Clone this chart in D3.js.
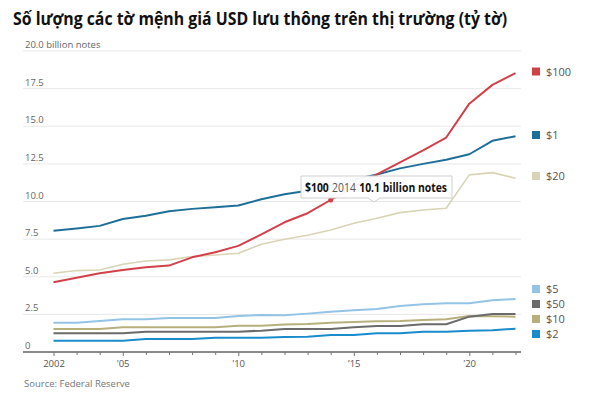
<!DOCTYPE html>
<html><head><meta charset="utf-8">
<script src="https://cdn.jsdelivr.net/npm/d3@7"></script>
<style>body{margin:0;background:#fff}svg{display:block}text{font-family:"Open Sans","Noto Sans",sans-serif}</style>
</head><body><svg id="c" width="600" height="400"></svg>
<script>
const years = d3.range(2002, 2023);
const seriesNames = ["$100", "$1", "$20", "$5", "$50", "$10", "$2"];
const v100 = [4.63,4.94,5.23,5.45,5.63,5.74,6.29,6.63,7.05,7.82,8.62,9.22,10.1,10.95,11.8,12.6,13.4,14.25,16.5,17.75,18.53];
const v1   = [8.05,8.2,8.38,8.84,9.06,9.35,9.51,9.62,9.73,10.15,10.48,10.72,11.1,11.45,11.8,12.2,12.5,12.77,13.14,14.03,14.34];
const v20  = [5.23,5.41,5.45,5.83,6.05,6.12,6.34,6.45,6.56,7.16,7.49,7.76,8.11,8.55,8.89,9.26,9.44,9.55,11.77,11.92,11.55];
const v5   = [1.95,1.95,2.06,2.17,2.17,2.26,2.26,2.26,2.39,2.46,2.44,2.55,2.68,2.77,2.86,3.06,3.17,3.24,3.24,3.44,3.52];
const v50  = [1.24,1.24,1.24,1.24,1.35,1.35,1.35,1.35,1.35,1.42,1.53,1.53,1.53,1.64,1.73,1.73,1.84,1.84,2.35,2.53,2.53];
const v10  = [1.53,1.53,1.53,1.64,1.64,1.64,1.64,1.64,1.75,1.75,1.82,1.86,1.95,1.99,2.04,2.06,2.13,2.17,2.39,2.37,2.35];
const v2   = [0.75,0.75,0.75,0.75,0.86,0.86,0.86,0.95,0.95,0.95,1.0,1.02,1.13,1.13,1.24,1.24,1.35,1.35,1.42,1.45,1.55];
const colors = ["#d2404a","#1e6f98","#d9d4b5","#93c4e6","#6b6b6b","#b8b07c","#1a8ccc"];
const yTicks = [0, 2.5, 5, 7.5, 10, 12.5, 15, 17.5, 20];
const xTickLabels = {2002:"2002",2005:"\u201905",2010:"\u201910",2015:"\u201915",2020:"\u201920"};
const title = "Số lượng các tờ mệnh giá USD lưu thông trên thị trường (tỷ tờ)";
const source = "Source: Federal Reserve";
const legendOrder = [0,1,2,3,4,5,6];
const tip = {series:"$100", year:2014, value:10.1};

const allValues = [v100, v1, v20, v5, v50, v10, v2];
const svg = d3.select("#c");
const x = d3.scaleLinear().domain([2002, 2022]).range([53.5, 515.5]);
const y = d3.scaleLinear().domain([0, 20]).range([352, 51]);
const gL = 23, gR = 521;

// title
const t = svg.append("text").attr("x", 13).attr("y", 25).attr("font-size", 18).attr("font-weight", 700).attr("fill", "#111").text(title);
const tw = t.node().getComputedTextLength();
if (tw > 494) t.attr("textLength", 494).attr("lengthAdjust", "spacingAndGlyphs");

// gridlines
svg.append("g").selectAll("line").data(yTicks.filter(d => d > 0)).join("line")
  .attr("x1", gL).attr("x2", gR).attr("y1", d => y(d)).attr("y2", d => y(d))
  .attr("stroke", "#e8e8e8").attr("stroke-width", 1);
svg.append("g").selectAll("text").data(yTicks).join("text")
  .attr("x", 25).attr("y", d => y(d) - 3).attr("font-size", 9.5).attr("fill", "#666")
  .text(d => d === 20 ? "20.0 billion notes" : (d === 0 ? "0" : d3.format(".1f")(d)));

// x axis
const xa = svg.append("g").attr("transform", "translate(0,352)")
  .call(d3.axisBottom(x).tickValues(years).tickSize(3).tickFormat(d => xTickLabels[d] || ""));
xa.select(".domain").remove();
xa.insert("line", ":first-child").attr("x1", gL).attr("x2", gR).attr("stroke", "#8a8a8a").attr("stroke-width", 2);
xa.selectAll(".tick line").attr("stroke", "#777").attr("y2", d => xTickLabels[d] ? 4 : 3);
xa.selectAll(".tick text").attr("font-size", 9.5).attr("fill", "#555").attr("dy", "0.9em").attr("font-family", "'Open Sans',sans-serif");

// lines
const line = d3.line().x((d, i) => x(years[i])).y(d => y(d));
const drawOrder = [3, 5, 4, 6, 2, 1, 0];
drawOrder.forEach(k => {
  svg.append("path").datum(allValues[k]).attr("d", line).attr("fill", "none")
    .attr("stroke", colors[k]).attr("stroke-width", k === 2 ? 1.6 : 2).attr("stroke-linejoin", "round");
});

// tooltip
const ti = years.indexOf(tip.year);
const px = x(tip.year), py = y(v100[ti]);
svg.append("circle").attr("cx", px).attr("cy", py).attr("r", 2.5).attr("fill", colors[0]);
const bx = 301, by = 176, bw = 151, bh = 22;
svg.append("path")
  .attr("d", `M${bx},${by}H${bx+bw}V${by+bh}H${bx+79}L${bx+73},${by+bh+4}L${bx+67},${by+bh}H${bx}Z`)
  .attr("fill", "rgba(255,255,255,0.95)").attr("stroke", "#cfcfcf").attr("stroke-width", 1);
const tt = svg.append("text").attr("x", bx + 4).attr("y", by + 15.5).attr("font-size", 12.5).attr("fill", "#111");
tt.append("tspan").attr("font-weight", 700).text(tip.series);
tt.append("tspan").attr("fill", "#555").attr("dx", 4).text(tip.year);
tt.append("tspan").attr("font-weight", 700).attr("dx", 4).text(tip.value + " billion notes");
const ttw = tt.node().getComputedTextLength();
if (ttw > 142) tt.attr("textLength", 142).attr("lengthAdjust", "spacingAndGlyphs");

// legend
const legY = [71.5, 135, 176, 289, 304, 319, 334];
legendOrder.forEach((k, i) => {
  svg.append("rect").attr("x", 532).attr("y", legY[i] - 4).attr("width", 8).attr("height", 8).attr("fill", colors[k]);
  svg.append("text").attr("x", 546).attr("y", legY[i] + 4).attr("font-size", 11).attr("fill", "#555").text(seriesNames[k]);
});

// source
svg.append("text").attr("x", 24).attr("y", 387).attr("font-size", 9.5).attr("fill", "#777").text(source);
</script></body></html>
